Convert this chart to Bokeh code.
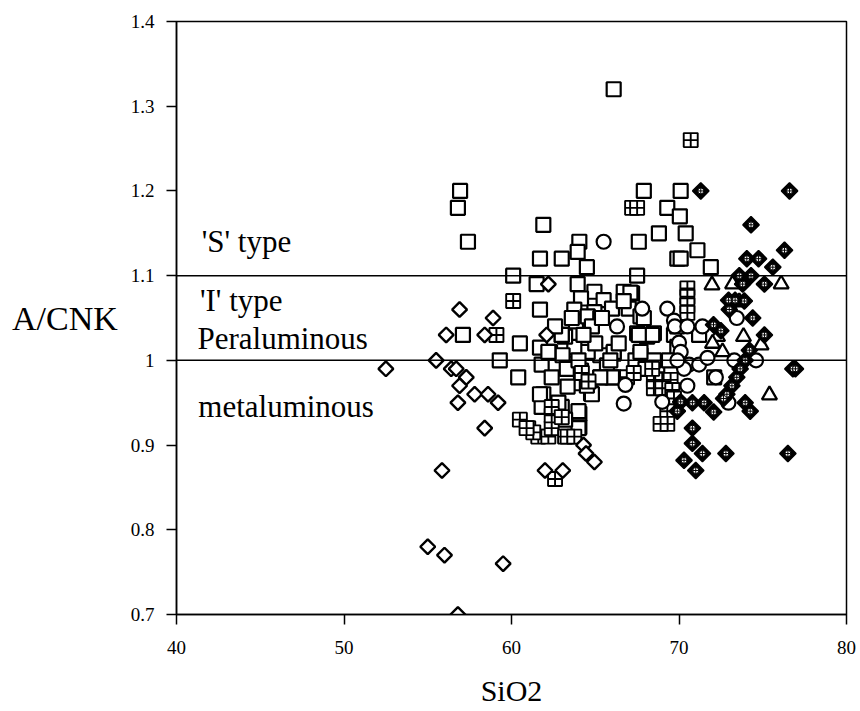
import numpy as np
from bokeh.plotting import figure
from bokeh.models import Range1d, FixedTicker, Span, Label
from bokeh.embed import file_html
from bokeh.resources import INLINE

# ---------------- data (SiO2 wt%, A/CNK) ----------------
open_diamond_x = [52.5, 55.5, 56.9, 56.1, 56.4, 56.7, 57.3, 56.9, 56.8, 57.8, 58.6, 59.2, 58.4, 58.9,
                  58.4, 62.2, 62.1, 55.85, 55.0, 56.0, 59.5, 56.8, 62.0, 63.06, 64.3, 64.45, 64.95]
open_diamond_y = [0.99, 1.00, 1.06, 1.03, 0.99, 0.99, 0.98, 0.97, 0.95, 0.96, 0.96, 0.95, 0.92, 1.05,
                  1.03, 1.09, 1.03, 0.87, 0.78, 0.77, 0.76, 0.70, 0.87, 0.87, 0.90, 0.89, 0.88]

square_x = [66.1, 56.93, 56.8, 57.4, 61.9, 61.7, 63.0, 60.1, 61.5, 61.7, 57.1, 60.5, 59.3, 60.4,
            67.9, 69.3, 68.8, 67.6, 64.05, 63.95, 64.5, 67.5, 69.9, 63.95,
            70.1, 70.05, 70.4, 71.1, 71.9, 70.1,
            64.95, 64.15, 65.5, 64.95, 63.75, 63.85, 64.55, 65.3, 66.0, 66.7, 67.2, 67.0, 67.7, 67.5,
            68.5, 67.7, 66.1, 65.3, 64.55, 63.75, 63.2, 63.45, 64.15, 65.7, 65.3, 66.1, 64.15, 64.75,
            63.35, 64.05, 64.05, 69.7, 69.9, 68.1, 67.5, 68.7,
            62.3, 61.9, 61.8, 61.7, 63.05, 63.0, 62.4, 61.8, 63.0,
            67.1, 67.9, 68.4, 67.6, 69.9, 69.4, 68.5, 67.4, 71.2, 72.1, 67.7,
            62.2, 61.7, 64.0, 64.0, 63.2, 64.8, 66.0, 65.3, 64.8, 65.4, 66.1, 66.7, 63.6, 63.0,
            63.3, 64.0, 64.5, 62.8, 65.0, 66.4, 68.0, 62.6, 64.3, 65.9]
square_y = [1.32, 1.20, 1.18, 1.14, 1.16, 1.12, 1.12, 1.10, 1.09, 1.06, 1.03, 1.02, 1.00, 0.98,
            1.20, 1.18, 1.15, 1.14, 1.14, 1.128, 1.11, 1.10, 1.12, 1.09,
            1.20, 1.17, 1.15, 1.13, 1.11, 1.12,
            1.081, 1.073, 1.071, 1.057, 1.06, 1.046, 1.052, 1.05, 1.061, 1.081, 1.079, 1.061, 1.052, 1.032,
            1.032, 1.006, 1.008, 1.006, 1.01, 1.016, 1.028, 0.996, 0.988, 0.994, 0.98, 0.98, 0.973, 0.961,
            0.969, 0.937, 0.921, 1.03, 1.016, 1.028, 0.994, 0.994,
            1.01, 0.96, 0.995, 1.015, 1.006, 1.03, 0.98, 0.945, 0.945,
            1.08, 1.05, 1.03, 1.03, 1.04, 1.00, 1.00, 1.00, 1.03, 0.98, 1.01,
            1.01, 0.96, 0.94, 0.92, 0.93, 0.96, 0.98, 0.98, 1.04, 1.05, 1.01, 1.07, 1.05, 1.03,
            0.99, 1.00, 0.97, 0.95, 1.02, 1.02, 0.99, 1.04, 1.03, 1.00]

grid_square_x = [70.7, 67.2, 67.5, 60.1, 59.1, 70.5, 70.5, 70.5, 70.5,
                 60.5, 61.0, 61.6, 62.2, 62.4, 62.4, 63.2, 62.6, 63.35, 63.75, 66.9,
                 68.5, 69.0, 69.5, 68.5, 69.0, 69.6, 69.7, 69.3, 69.3, 68.9, 68.4,
                 62.4, 63.0, 64.2, 64.6, 67.3, 61.3, 60.9]
grid_square_y = [1.26, 1.18, 1.18, 1.07, 1.03, 1.085, 1.075, 1.065, 1.056,
                 0.93, 0.92, 0.91, 0.91, 0.92, 0.935, 0.91, 0.86, 0.91, 0.91, 0.98,
                 0.977, 0.977, 0.977, 0.967, 0.967, 0.965, 0.955, 0.94, 0.925, 0.925, 0.99,
                 0.945, 0.933, 0.985, 0.975, 0.985, 0.915, 0.92]

circle_x = [65.5, 66.3, 67.8, 69.3, 66.8, 66.7, 69.0, 69.7, 69.75, 70.5, 71.4, 70.0, 70.1, 70.6,
            71.2, 71.7, 73.3, 74.6, 72.2, 70.5, 72.95, 73.45, 70.3, 69.9]
circle_y = [1.14, 1.04, 1.061, 1.061, 0.971, 0.949, 0.951, 1.047, 1.04, 1.04, 1.04, 1.021, 1.01, 0.995,
            0.995, 1.003, 1.00, 1.00, 0.98, 0.97, 0.95, 1.05, 0.99, 1.00]

triangle_x = [71.97, 73.2, 76.1, 73.6, 72.3, 73.85, 74.9, 72.6, 75.4, 72.0]
triangle_y = [1.089, 1.09, 1.09, 1.069, 1.028, 1.028, 1.018, 1.01, 0.959, 1.02]

filled_diamond_x = [71.3, 76.6, 74.3, 76.3, 74.05, 74.75, 75.6, 73.6, 74.3, 75.1, 73.8, 72.96, 73.35,
                    73.9, 74.4, 75.1, 72.06, 74.2, 73.95, 73.65, 73.45, 73.16, 72.86, 72.66, 76.8,
                    76.95, 70.1, 70.8, 71.5, 72.07, 73.95, 74.25, 69.9, 70.8, 70.8, 71.4, 70.3, 71.0,
                    72.8, 76.5, 73.0, 72.5]
filled_diamond_y = [1.20, 1.20, 1.16, 1.13, 1.12, 1.12, 1.11, 1.10, 1.10, 1.09, 1.09, 1.071, 1.071,
                    1.07, 1.05, 1.03, 1.042, 1.012, 1.00, 0.99, 0.98, 0.97, 0.96, 0.955, 0.99,
                    0.99, 0.951, 0.95, 0.95, 0.939, 0.95, 0.94, 0.94, 0.92, 0.902, 0.89, 0.882, 0.87,
                    0.89, 0.89, 1.06, 1.035]

y_ticks = [0.7, 0.8, 0.9, 1.0, 1.1, 1.2, 1.3, 1.4]
y_tick_labels = ["0.7", "0.8", "0.9", "1", "1.1", "1.2", "1.3", "1.4"]
x_ticks = [40, 50, 60, 70, 80]
boundaries = [1.0, 1.1]

FONT = "Liberation Serif"

p = figure(width=860, height=711, output_backend="svg", toolbar_location=None,
           x_range=Range1d(40, 80), y_range=Range1d(0.7, 1.4),
           min_border_left=176, min_border_right=14, min_border_top=21, min_border_bottom=97)
p.background_fill_color = "white"
p.border_fill_color = "white"
p.outline_line_color = "black"
p.outline_line_width = 1.5
p.xgrid.visible = False
p.ygrid.visible = False

for ax in (p.xaxis, p.yaxis):
    ax.axis_line_color = "black"
    ax.axis_line_width = 1.5
    ax.major_tick_line_color = "black"
    ax.major_tick_line_width = 1.5
    ax.major_tick_in = 0
    ax.major_tick_out = 10
    ax.minor_tick_line_color = None
    ax.major_label_text_font = FONT
    ax.major_label_text_font_size = "19px"
    ax.major_label_text_color = "black"
    ax.axis_label_text_font = FONT
    ax.axis_label_text_font_style = "normal"
    ax.axis_label_text_color = "black"

p.xaxis.ticker = FixedTicker(ticks=x_ticks)
p.yaxis.ticker = FixedTicker(ticks=y_ticks)
p.yaxis.major_label_overrides = {t: s for t, s in zip(y_ticks, y_tick_labels)}
p.xaxis.major_label_standoff = 16
p.yaxis.major_label_standoff = 12

p.xaxis.axis_label = "SiO2"
p.xaxis.axis_label_text_font_size = "30px"
p.xaxis.axis_label_standoff = 17

p.yaxis.axis_label = "A/CNK"
p.yaxis.axis_label_text_font_size = "34px"
p.yaxis.axis_label_standoff = 10
p.yaxis.axis_label_orientation = "horizontal"

for b in boundaries:
    p.add_layout(Span(location=b, dimension="width", line_color="black", line_width=1.5))

# markers
p.scatter(square_x, square_y, marker="square", size=14, fill_color="white",
          line_color="black", line_width=2.2)
p.scatter(grid_square_x, grid_square_y, marker="square_cross", size=14, fill_color="white",
          line_color="black", line_width=1.9)
p.scatter(circle_x, circle_y, marker="circle", size=14, fill_color="white",
          line_color="black", line_width=2.2)
p.scatter(triangle_x, triangle_y, marker="triangle", size=15, fill_color="white",
          line_color="black", line_width=2.3)
p.scatter(open_diamond_x, open_diamond_y, marker="square", angle=np.pi / 4, size=10.5,
          fill_color="white", line_color="black", line_width=2.4)
p.scatter(filled_diamond_x, filled_diamond_y, marker="square", angle=np.pi / 4, size=11.5,
          fill_color="black", line_color="black", line_width=1.6)
p.scatter(filled_diamond_x, filled_diamond_y, marker="circle_cross", size=6,
          fill_color="white", line_color="black", line_width=1)

# text annotations inside the frame
def add_text(x, y, t, size):
    p.add_layout(Label(x=x, y=y, text=t, text_font=FONT, text_font_size=size,
                       text_color="black", text_baseline="alphabetic", text_align="left"))

add_text(41.5, 1.140, "'S' type", "31px")
add_text(41.4, 1.071, "'I' type", "31px")
add_text(41.25, 1.026, "Peraluminous", "31px")
add_text(41.3, 0.945, "metaluminous", "31px")

open("out.html", "w").write(file_html(p, INLINE))
